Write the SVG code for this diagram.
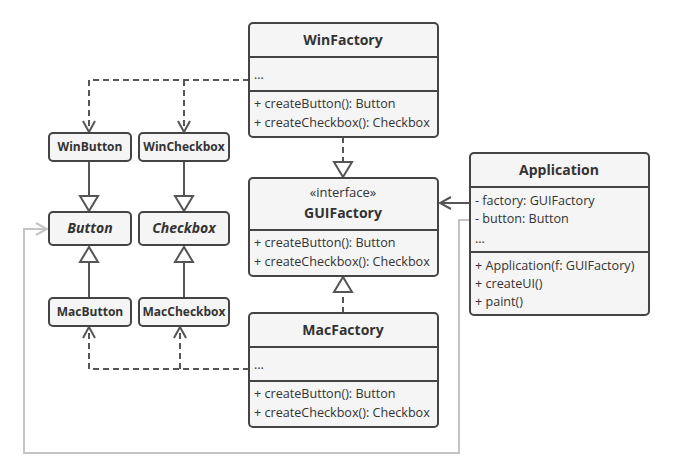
<svg xmlns="http://www.w3.org/2000/svg" width="698" height="469" viewBox="0 0 698 469">
  <style>
    .box { fill: #f5f5f5; stroke: #444; stroke-width: 2; }
    .div { stroke: #444; stroke-width: 2; fill: none; }
    .t { font-family: "Open Sans", "Liberation Sans", sans-serif; fill: #333; }
    .title { font-size: 14px; font-weight: bold; text-anchor: middle; }
    .small { font-size: 12px; font-weight: bold; text-anchor: middle; }
    .ital { font-size: 14px; font-weight: bold; font-style: italic; text-anchor: middle; }
    .mem { font-size: 12.6px; }
    .solid { stroke: #555; stroke-width: 2; fill: none; }
    .dash { stroke: #555; stroke-width: 2; fill: none; stroke-dasharray: 6 4; }
    .grey { stroke: #c4c4c4; stroke-width: 2; fill: none; }
    .tri { fill: #fff; stroke: #555; stroke-width: 2; }
  </style>
  <defs>
    <marker id="open" markerWidth="14" markerHeight="14" refX="12" refY="7" orient="auto" markerUnits="userSpaceOnUse">
      <path d="M1,1 L12,7 L1,13" fill="none" stroke="#555" stroke-width="2"/>
    </marker>
    <marker id="openGrey" markerWidth="14" markerHeight="14" refX="12" refY="7" orient="auto" markerUnits="userSpaceOnUse">
      <path d="M1,1 L12,7 L1,13" fill="none" stroke="#c4c4c4" stroke-width="2"/>
    </marker>
  </defs>

  <!-- connectors -->
  <g id="connectors">
    <!-- WinFactory creates WinButton / WinCheckbox -->
    <path class="dash" d="M249,80 H89 V132" marker-end="url(#open)"/>
    <path class="dash" d="M184,80 V132" marker-end="url(#open)"/>
    <!-- MacFactory creates MacButton / MacCheckbox -->
    <path class="dash" d="M249,369 H89 V327" marker-end="url(#open)"/>
    <path class="dash" d="M180,369 V327" marker-end="url(#open)"/>
    <!-- factories implement GUIFactory -->
    <path class="dash" d="M343,137 V162"/>
    <path class="dash" d="M343,313 V292"/>
    <path class="tri" d="M334,162 L352,162 L343,177 Z"/>
    <path class="tri" d="M334,292 L352,292 L343,277 Z"/>
    <!-- products implement interfaces -->
    <path class="solid" d="M89,161 V196"/>
    <path class="solid" d="M184,161 V196"/>
    <path class="tri" d="M80,196 L98,196 L89,211 Z"/>
    <path class="tri" d="M175,196 L193,196 L184,211 Z"/>
    <path class="solid" d="M89,298 V262"/>
    <path class="solid" d="M184,298 V262"/>
    <path class="tri" d="M80,262 L98,262 L89,247 Z"/>
    <path class="tri" d="M175,262 L193,262 L184,247 Z"/>
    <!-- Application associations -->
    <path class="solid" d="M470,203 H440" marker-end="url(#open)"/>
    <path class="grey" d="M470,220 H459 V453 H24 V229 H47" marker-end="url(#openGrey)"/>
  </g>

  <g id="WinFactory">
    <rect class="box" x="249" y="23" width="189" height="114" rx="4"/>
    <line class="div" x1="249" y1="57" x2="438" y2="57"/>
    <line class="div" x1="249" y1="91" x2="438" y2="91"/>
    <text class="t title" x="343" y="45">WinFactory</text>
    <text class="t mem" x="254" y="79">...</text>
    <text class="t mem" x="254" y="108">+ createButton(): Button</text>
    <text class="t mem" x="254" y="127">+ createCheckbox(): Checkbox</text>
  </g>

  <g id="GUIFactory">
    <rect class="box" x="249" y="178" width="189" height="98" rx="4"/>
    <line class="div" x1="249" y1="230" x2="438" y2="230"/>
    <text class="t" x="343" y="197" font-size="13" text-anchor="middle">«interface»</text>
    <text class="t title" x="343" y="218">GUIFactory</text>
    <text class="t mem" x="254" y="247">+ createButton(): Button</text>
    <text class="t mem" x="254" y="266">+ createCheckbox(): Checkbox</text>
  </g>

  <g id="MacFactory">
    <rect class="box" x="249" y="313" width="189" height="114" rx="4"/>
    <line class="div" x1="249" y1="347" x2="438" y2="347"/>
    <line class="div" x1="249" y1="381" x2="438" y2="381"/>
    <text class="t title" x="343" y="335">MacFactory</text>
    <text class="t mem" x="254" y="369">...</text>
    <text class="t mem" x="254" y="398">+ createButton(): Button</text>
    <text class="t mem" x="254" y="417">+ createCheckbox(): Checkbox</text>
  </g>

  <g id="Application">
    <rect class="box" x="470" y="153" width="179" height="162" rx="4"/>
    <line class="div" x1="470" y1="187" x2="649" y2="187"/>
    <line class="div" x1="470" y1="252" x2="649" y2="252"/>
    <text class="t title" x="559" y="175">Application</text>
    <text class="t mem" x="475" y="205">- factory: GUIFactory</text>
    <text class="t mem" x="475" y="223">- button: Button</text>
    <text class="t mem" x="475" y="243">...</text>
    <text class="t mem" x="475" y="270">+ Application(f: GUIFactory)</text>
    <text class="t mem" x="475" y="288">+ createUI()</text>
    <text class="t mem" x="475" y="306">+ paint()</text>
  </g>

  <g id="WinButton">
    <rect class="box" x="49" y="133" width="82" height="28" rx="4"/>
    <text class="t small" x="90" y="151">WinButton</text>
  </g>
  <g id="WinCheckbox">
    <rect class="box" x="139" y="133" width="90" height="28" rx="4"/>
    <text class="t small" x="184" y="151">WinCheckbox</text>
  </g>
  <g id="Button">
    <rect class="box" x="49" y="212" width="82" height="33" rx="4"/>
    <text class="t ital" x="90" y="233">Button</text>
  </g>
  <g id="Checkbox">
    <rect class="box" x="139" y="212" width="90" height="33" rx="4"/>
    <text class="t ital" x="184" y="233">Checkbox</text>
  </g>
  <g id="MacButton">
    <rect class="box" x="49" y="298" width="82" height="28" rx="4"/>
    <text class="t small" x="90" y="316">MacButton</text>
  </g>
  <g id="MacCheckbox">
    <rect class="box" x="139" y="298" width="90" height="28" rx="4"/>
    <text class="t small" x="184" y="316">MacCheckbox</text>
  </g>
</svg>
